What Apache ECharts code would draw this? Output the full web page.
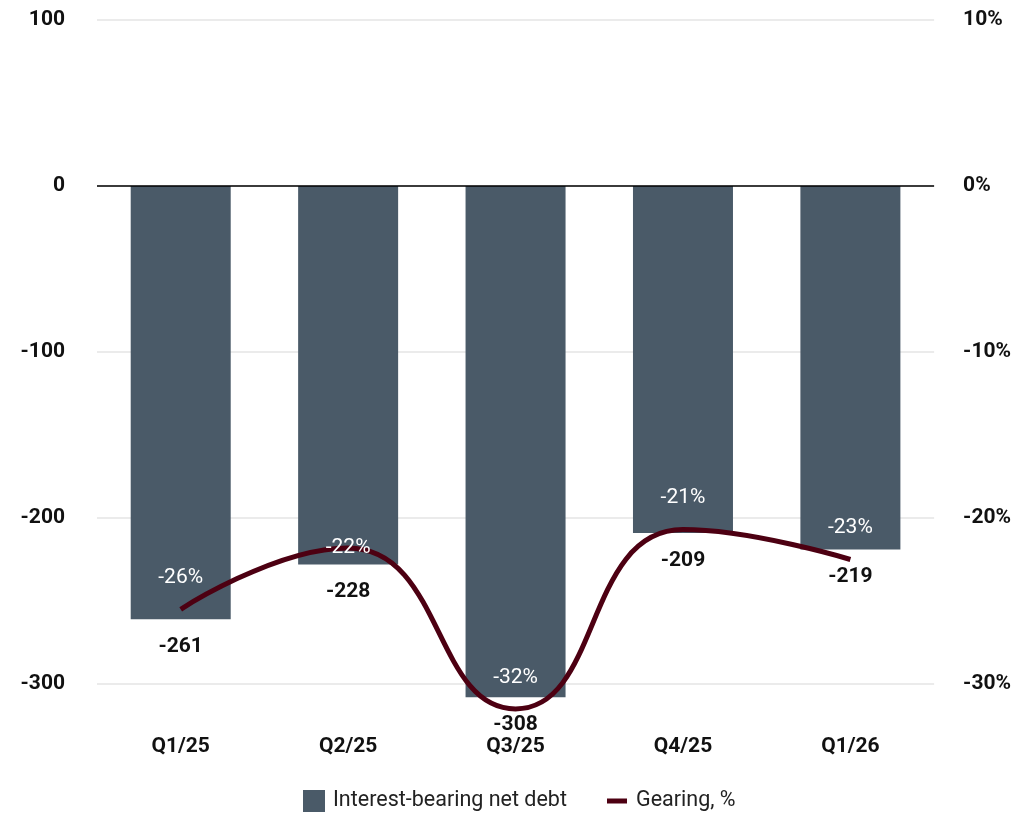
<!DOCTYPE html>
<html>
<head>
<meta charset="utf-8">
<script src="https://cdn.jsdelivr.net/npm/echarts@6/dist/echarts.min.js"></script>
<style>
html,body{margin:0;padding:0;background:#fff;}
#chart{width:1014px;height:813px;}
</style>
</head>
<body>
<div id="chart"></div>
<script>
const categories = ['Q1/25', 'Q2/25', 'Q3/25', 'Q4/25', 'Q1/26'];
const netDebt = [-261, -228, -308, -209, -219];
const gearing = [-25.5, -21.8, -31.5, -20.7, -22.5];
const leftTicks = { min: -300, max: 100, interval: 100 };
const rightTicks = { min: -30, max: 10, interval: 10 };

const FONT = 'Roboto';
const chart = echarts.init(document.getElementById('chart'), null, { renderer: 'canvas' });

const gearingData = gearing.map((v, i) => {
  const item = { value: v };
  if (i === 1) {
    item.label = { position: 'inside' };
  }
  return item;
});

chart.setOption({
  animation: false,
  backgroundColor: '#ffffff',
  textStyle: { fontFamily: FONT },
  grid: { left: 97, right: 79, top: 20, bottom: 129, containLabel: false },
  legend: [
    {
      data: ['Interest-bearing net debt'],
      left: 303, top: 790, padding: 0,
      itemWidth: 22, itemHeight: 22, icon: 'rect',
      textStyle: { fontFamily: FONT, fontSize: 21.5, color: '#222', padding: [0, 0, 0, 3] }
    },
    {
      data: ['Gearing, %'],
      left: 607, top: 790, padding: 0,
      itemWidth: 20, itemHeight: 5, icon: 'rect',
      textStyle: { fontFamily: FONT, fontSize: 21.5, color: '#222', padding: [0, 0, 0, 4] }
    }
  ],
  xAxis: {
    type: 'category',
    data: categories,
    axisLine: { show: false, onZero: false },
    axisTick: { show: false },
    axisLabel: { margin: 52, fontFamily: FONT, fontSize: 21, fontWeight: 'bold', color: '#111' }
  },
  yAxis: [
    {
      type: 'value',
      min: leftTicks.min, max: leftTicks.max, interval: leftTicks.interval,
      axisLine: { show: false },
      axisTick: { show: false },
      splitLine: { lineStyle: { color: '#e4e4e4', width: 1.5 } },
      axisLabel: { margin: 32, fontFamily: FONT, fontSize: 21, fontWeight: 'bold', color: '#111' }
    },
    {
      type: 'value',
      min: rightTicks.min, max: rightTicks.max, interval: rightTicks.interval,
      axisLine: { show: false },
      axisTick: { show: false },
      splitLine: { show: false },
      axisLabel: { margin: 29, fontFamily: FONT, fontSize: 21, fontWeight: 'bold', color: '#111', formatter: '{value}%' }
    }
  ],
  series: [
    {
      name: 'Interest-bearing net debt',
      type: 'bar',
      data: netDebt,
      barWidth: 100,
      clip: false,
      itemStyle: { color: '#4a5a68' },
      label: {
        show: true, position: 'bottom', distance: 17,
        fontFamily: FONT, fontSize: 21, fontWeight: 'bold', color: '#111'
      },
      markLine: {
        silent: true,
        symbol: 'none',
        label: { show: false },
        lineStyle: { color: '#000', width: 1.5, type: 'solid' },
        data: [{ yAxis: 0 }]
      },
      z: 2
    },
    {
      name: 'Gearing, %',
      type: 'line',
      yAxisIndex: 1,
      data: gearingData,
      smooth: true,
      clip: false,
      symbol: 'circle',
      symbolSize: 0,
      showSymbol: true,
      lineStyle: { color: '#4d0012', width: 5 },
      itemStyle: { color: '#4d0012' },
      label: {
        show: true, position: 'top', distance: 21,
        fontFamily: FONT, fontSize: 21, color: '#ffffff',
        formatter: p => p.value.toFixed(0) + '%'
      },
      z: 3
    }
  ]
});
</script>
</body>
</html>
